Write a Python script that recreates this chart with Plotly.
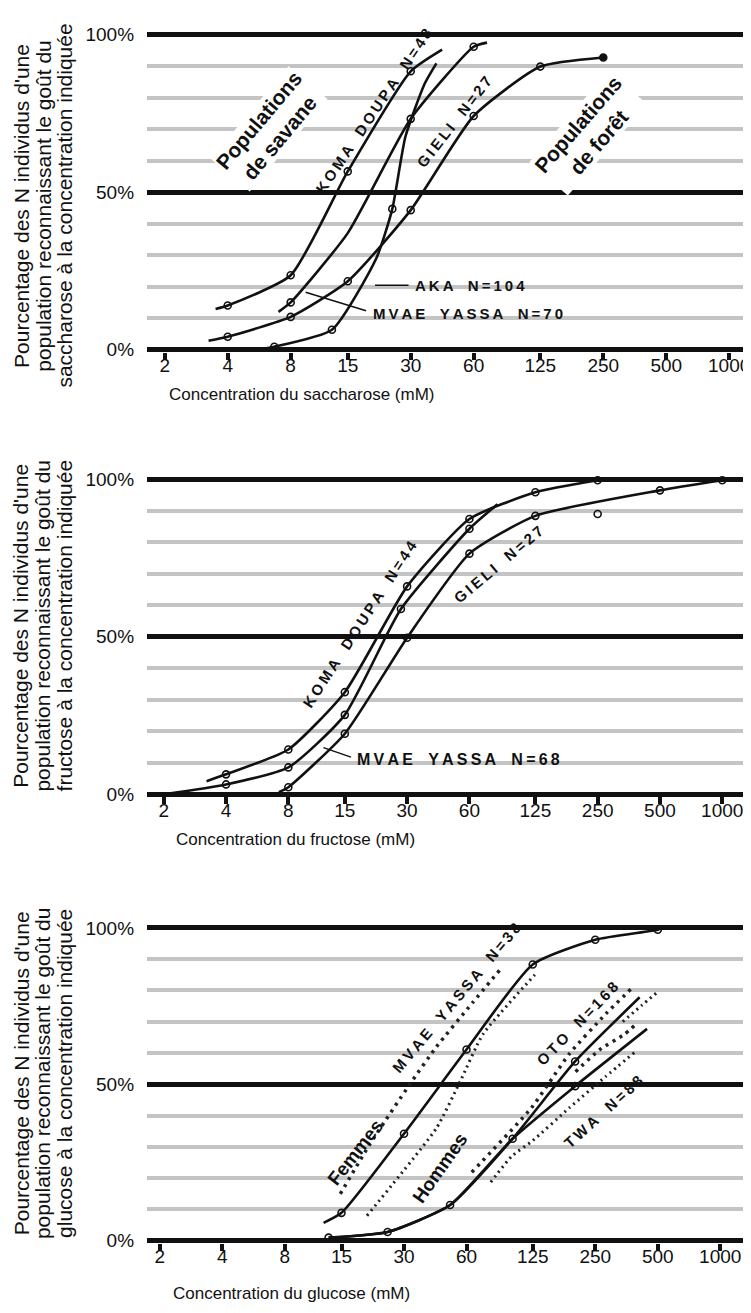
import math
import plotly.graph_objects as go

W, H = 751, 1313
FONT = "Liberation Sans, Arial, Helvetica, sans-serif"
INK = "#111111"

# ---------------- axes ----------------
TICK_VALUES = [2, 4, 8, 15, 30, 60, 125, 250, 500, 1000]
TICK_LABELS = ["2", "4", "8", "15", "30", "60", "125", "250", "500", "1000"]
Y_TICKS = [0, 50, 100]
Y_LABELS = ["0%", "50%", "100%"]

# ---------------- panel 1 : saccharose ----------------
SAC_KOMA_LX = [3.5, 4, 8, 15, 30, 42.4]
SAC_KOMA_LY = [12.9, 14, 23.6, 56.6, 88.4, 95.3]
SAC_KOMA_MX = [4, 8, 15, 30]
SAC_KOMA_MY = [14, 23.6, 56.6, 88.4]

SAC_MVAE_LX = [7.0, 8, 15, 30, 60, 69.5]
SAC_MVAE_LY = [12, 15, 37, 73.3, 96.2, 97.5]
SAC_MVAE_MX = [8, 30, 60]
SAC_MVAE_MY = [15, 73.3, 96.2]

SAC_AKA_LX = [5.98, 6.68, 12.6, 20.6, 24.5, 28.3, 34.9, 39.8]
SAC_AKA_LY = [0.3, 0.9, 6.3, 29.2, 44.7, 67.6, 84.3, 90.9]
SAC_AKA_MX = [6.68, 12.6, 24.5]
SAC_AKA_MY = [0.9, 6.3, 44.7]

SAC_GIELI_LX = [3.24, 4, 8, 15, 30, 60, 125, 250]
SAC_GIELI_LY = [2.8, 4.1, 10.4, 21.7, 44.3, 74.2, 89.9, 92.8]
SAC_GIELI_MX = [4, 8, 15, 30, 60, 125, 250]
SAC_GIELI_MY = [4.1, 10.4, 21.7, 44.3, 74.2, 89.9, 92.8]

# ---------------- panel 2 : fructose ----------------
FRU_KOMA_LX = [3.22, 4, 8, 15, 30, 60, 125, 250]
FRU_KOMA_LY = [4.1, 6.3, 14.2, 32.4, 66, 87.4, 95.9, 99.7]
FRU_KOMA_MX = [4, 8, 15, 30, 60, 125, 250]
FRU_KOMA_MY = [6.3, 14.2, 32.4, 66, 87.4, 95.9, 99.7]

FRU_MVAE_LX = [2, 4, 8, 15, 28, 60, 82]
FRU_MVAE_LY = [0, 3.1, 8.5, 25.2, 58.8, 84.3, 92.1]
FRU_MVAE_MX = [4, 8, 15, 28, 60, 250]
FRU_MVAE_MY = [3.1, 8.5, 25.2, 58.8, 84.3, 89]

FRU_GIELI_LX = [7.2, 8, 15, 30, 60, 125, 500, 1000]
FRU_GIELI_LY = [0.6, 2.2, 19.2, 49.7, 76.4, 88.4, 96.5, 99.7]
FRU_GIELI_MX = [8, 15, 30, 60, 125, 500, 1000]
FRU_GIELI_MY = [2.2, 19.2, 49.7, 76.4, 88.4, 96.5, 99.7]

# ---------------- panel 3 : glucose ----------------
GLU_MVAE_LX = [12.3, 15, 30, 60, 125, 250, 500, 525]
GLU_MVAE_LY = [5.7, 8.9, 34.2, 61.1, 88.3, 96.2, 99.4, 100]
GLU_MVAE_MX = [15, 30, 60, 125, 250, 500]
GLU_MVAE_MY = [8.9, 34.2, 61.1, 88.3, 96.2, 99.4]

GLU_OTO_LX = [13, 25, 50, 100, 200, 409]
GLU_OTO_LY = [1, 2.8, 11.4, 32.6, 57.3, 77.8]
GLU_OTO_MX = [13, 25, 50, 100, 200]
GLU_OTO_MY = [1, 2.8, 11.4, 32.6, 57.3]

GLU_TWA_LX = [13, 25, 50, 100, 200, 444]
GLU_TWA_LY = [1, 2.8, 11.4, 32.6, 49.4, 67.7]
GLU_TWA_MX = [200]
GLU_TWA_MY = [49.4]

# women (circles) / men (triangles) sub-curves
GLU_MVAE_F_X = [14.8, 20.6, 32, 43, 64, 88]
GLU_MVAE_F_Y = [15, 31, 50, 62, 76, 87]
GLU_MVAE_H_X = [19.9, 43, 56, 72, 128]
GLU_MVAE_H_Y = [8, 36, 51, 66, 85]
GLU_OTO_F_X = [63.6, 123, 188, 281, 379]
GLU_OTO_F_Y = [21.9, 42.4, 59.8, 72.5, 81]
GLU_OTO_H_X = [339, 420, 497]
GLU_OTO_H_Y = [70, 75.3, 79.4]
GLU_TWA_F_X = [201, 262, 346, 390]
GLU_TWA_F_Y = [54, 61, 66, 69]
GLU_TWA_H_X = [78.5, 99, 125, 188, 281, 390]
GLU_TWA_H_Y = [18.7, 27, 32, 42.5, 52.5, 60.4]

# ---------------- layout geometry (pixels) ----------------
PLOT_LEFT, PLOT_RIGHT = 140, 742
PANELS = [
    dict(px2=158, px1000=727, p0=341, p100=23),
    dict(px2=157, px1000=720, p0=790, p100=472),
    dict(px2=153, px1000=718, p0=1241, p100=925),
]
Y_MIN, Y_MAX = -0.6, 102

fig = go.Figure()


def ax_names(i):
    s = "" if i == 0 else str(i + 1)
    return "x" + s, "y" + s, "xaxis" + s, "yaxis" + s


def curve(i, lx, ly, mx, my, filled_last=False):
    xa, ya, _, _ = ax_names(i)
    fig.add_trace(go.Scatter(x=lx, y=ly, mode="lines", xaxis=xa, yaxis=ya,
                             line=dict(color=INK, width=2.6, shape="spline", smoothing=0.55),
                             hoverinfo="skip", showlegend=False))
    sym = ["circle-open"] * len(mx)
    if filled_last:
        sym[-1] = "circle"
    fig.add_trace(go.Scatter(x=mx, y=my, mode="markers", xaxis=xa, yaxis=ya,
                             marker=dict(symbol=sym, size=7, color=INK,
                                         line=dict(color=INK, width=1.6)),
                             showlegend=False))


def dotted(i, x, y, dash, width):
    xa, ya, _, _ = ax_names(i)
    fig.add_trace(go.Scatter(x=x, y=y, mode="lines", xaxis=xa, yaxis=ya,
                             line=dict(color="#222222", width=width, dash=dash,
                                       shape="spline", smoothing=0.5),
                             hoverinfo="skip", showlegend=False))


curve(0, SAC_KOMA_LX, SAC_KOMA_LY, SAC_KOMA_MX, SAC_KOMA_MY)
curve(0, SAC_MVAE_LX, SAC_MVAE_LY, SAC_MVAE_MX, SAC_MVAE_MY)
curve(0, SAC_AKA_LX, SAC_AKA_LY, SAC_AKA_MX, SAC_AKA_MY)
curve(0, SAC_GIELI_LX, SAC_GIELI_LY, SAC_GIELI_MX, SAC_GIELI_MY, filled_last=True)

curve(1, FRU_KOMA_LX, FRU_KOMA_LY, FRU_KOMA_MX, FRU_KOMA_MY)
curve(1, FRU_MVAE_LX, FRU_MVAE_LY, FRU_MVAE_MX, FRU_MVAE_MY)
curve(1, FRU_GIELI_LX, FRU_GIELI_LY, FRU_GIELI_MX, FRU_GIELI_MY)

CIRC_DASH, TRI_DASH = "3px,5px", "2px,4px"
dotted(2, GLU_MVAE_F_X, GLU_MVAE_F_Y, CIRC_DASH, 3.5)
dotted(2, GLU_MVAE_H_X, GLU_MVAE_H_Y, TRI_DASH, 3)
dotted(2, GLU_OTO_F_X, GLU_OTO_F_Y, CIRC_DASH, 3.5)
dotted(2, GLU_OTO_H_X, GLU_OTO_H_Y, TRI_DASH, 3)
dotted(2, GLU_TWA_F_X, GLU_TWA_F_Y, CIRC_DASH, 3.5)
dotted(2, GLU_TWA_H_X, GLU_TWA_H_Y, TRI_DASH, 3)
curve(2, GLU_MVAE_LX, GLU_MVAE_LY, GLU_MVAE_MX, GLU_MVAE_MY)
curve(2, GLU_OTO_LX, GLU_OTO_LY, GLU_OTO_MX, GLU_OTO_MY)
curve(2, GLU_TWA_LX, GLU_TWA_LY, GLU_TWA_MX, GLU_TWA_MY)

layout_axes = {}
for i, p in enumerate(PANELS):
    xa, ya, xkey, ykey = ax_names(i)
    ppd = (p["px1000"] - p["px2"]) / (math.log10(1000) - math.log10(2))
    xr = [math.log10(2) - (p["px2"] - PLOT_LEFT) / ppd,
          math.log10(1000) + (PLOT_RIGHT - p["px1000"]) / ppd]
    s = (p["p0"] - p["p100"]) / 100.0
    bottom_px = p["p0"] - Y_MIN * s
    top_px = p["p100"] - (Y_MAX - 100) * s
    layout_axes[xkey] = dict(
        type="log", range=xr, domain=[PLOT_LEFT / W, PLOT_RIGHT / W], anchor=ya,
        tickmode="array", tickvals=TICK_VALUES, ticktext=TICK_LABELS,
        ticks="outside", ticklen=7, tickwidth=4, tickcolor=INK,
        showgrid=False, zeroline=False, showline=False,
        tickfont=dict(family=FONT, size=19, color=INK), ticklabelstandoff=-10,
    )
    layout_axes[ykey] = dict(
        range=[Y_MIN, Y_MAX], domain=[1 - bottom_px / H, 1 - top_px / H], anchor=xa,
        tickmode="array", tickvals=Y_TICKS, ticktext=Y_LABELS,
        ticks="outside", ticklen=8, tickcolor="rgba(0,0,0,0)",
        showgrid=True, gridcolor=INK, gridwidth=5,
        zeroline=True, zerolinecolor=INK, zerolinewidth=5, showline=False,
        minor=dict(tickmode="linear", tick0=0, dtick=10, showgrid=True,
                   gridcolor="#c4c4c4", gridwidth=4, ticks=""),
        tickfont=dict(family=FONT, size=19, color=INK),
    )


def P(px, py):
    return px / W, 1 - py / H


def spaced(text):
    return "\u2009\u00a0\u00a0\u2009".join("\u2009".join(w) for w in text.split())


ann = []


def label(text, px, py, angle=0, size=15, bold=True, xanchor="center", bg=None):
    x, y = P(px, py)
    t = "<b>" + text + "</b>" if bold else text
    d = dict(text=t, x=x, y=y, xref="paper", yref="paper", showarrow=False,
             textangle=angle, xanchor=xanchor, yanchor="middle",
             font=dict(family=FONT, size=size, color=INK))
    if bg:
        d["bgcolor"] = bg
        d["borderpad"] = 0
    ann.append(d)


def leader(hx, hy, tx, ty):
    x, y = P(hx, hy)
    ann.append(dict(text="", x=x, y=y, xref="paper", yref="paper", showarrow=True,
                    ax=tx - hx, ay=ty - hy, arrowhead=0, arrowwidth=1.5,
                    arrowcolor=INK, standoff=0, startstandoff=0))


# panel 1 labels
label("Populations<br>de savane", 263, 118, -50, 21, bg="white")
label("Populations<br>de forêt", 585, 122, -49, 21, bg="white")
label(spaced("KOMA DOUPA N=48"), 368, 100, -56)
label(spaced("GIELI N=27"), 450, 111, -52)
label(spaced("AKA N=104"), 408, 276, 0, xanchor="left")
label(spaced("MVAE YASSA N=70"), 366, 305, 0, xanchor="left")
leader(370, 276, 405, 276)
leader(300, 283, 362, 302)

# panel 2 labels
label(spaced("KOMA DOUPA N=44"), 355, 618, -57)
label(spaced("GIELI N=27"), 494, 558, -40)
label(spaced("MVAE YASSA N=68"), 350, 755, 0, 16, xanchor="left")
leader(318, 743, 347, 753)

# panel 3 labels
label(spaced("MVAE YASSA N=38"), 452, 995, -50)
label("Femmes", 350, 1152, -52, 19)
label("Hommes", 435, 1168, -55, 19)
label(spaced("OTO N=168"), 574, 1022, -46)
label(spaced("TWA N=88"), 600, 1110, -42)

# axis titles
label("Concentration du saccharose (mM)", 296, 386, 0, 17, bold=False)
label("Concentration du fructose (mM)", 290, 836, 0, 17, bold=False)
label("Concentration du glucose (mM)", 286, 1294, 0, 17, bold=False)

Y_TITLE_LINES = [
    ["Pourcentage des N individus d'une", "population reconnaissant le goût du",
     "saccharose à la concentration indiquée"],
    ["Pourcentage des N individus d'une", "population reconnaissant le goût du",
     "fructose à la concentration indiquée"],
    ["Pourcentage des N individus d'une", "population reconnaissant le goût du",
     "glucose à la concentration indiquée"],
]
Y_TITLE_CENTERS = [196, 620, 1072]
for lines, cy in zip(Y_TITLE_LINES, Y_TITLE_CENTERS):
    for k, line in enumerate(lines):
        label(line, 13 + 22 * k, cy, -90, 21, bold=False)

fig.update_layout(
    width=W, height=H, margin=dict(l=0, r=0, t=0, b=0),
    paper_bgcolor="white", plot_bgcolor="white",
    font=dict(family=FONT, color=INK),
    annotations=ann, showlegend=False,
    **layout_axes,
)

fig.write_html("out.html")
